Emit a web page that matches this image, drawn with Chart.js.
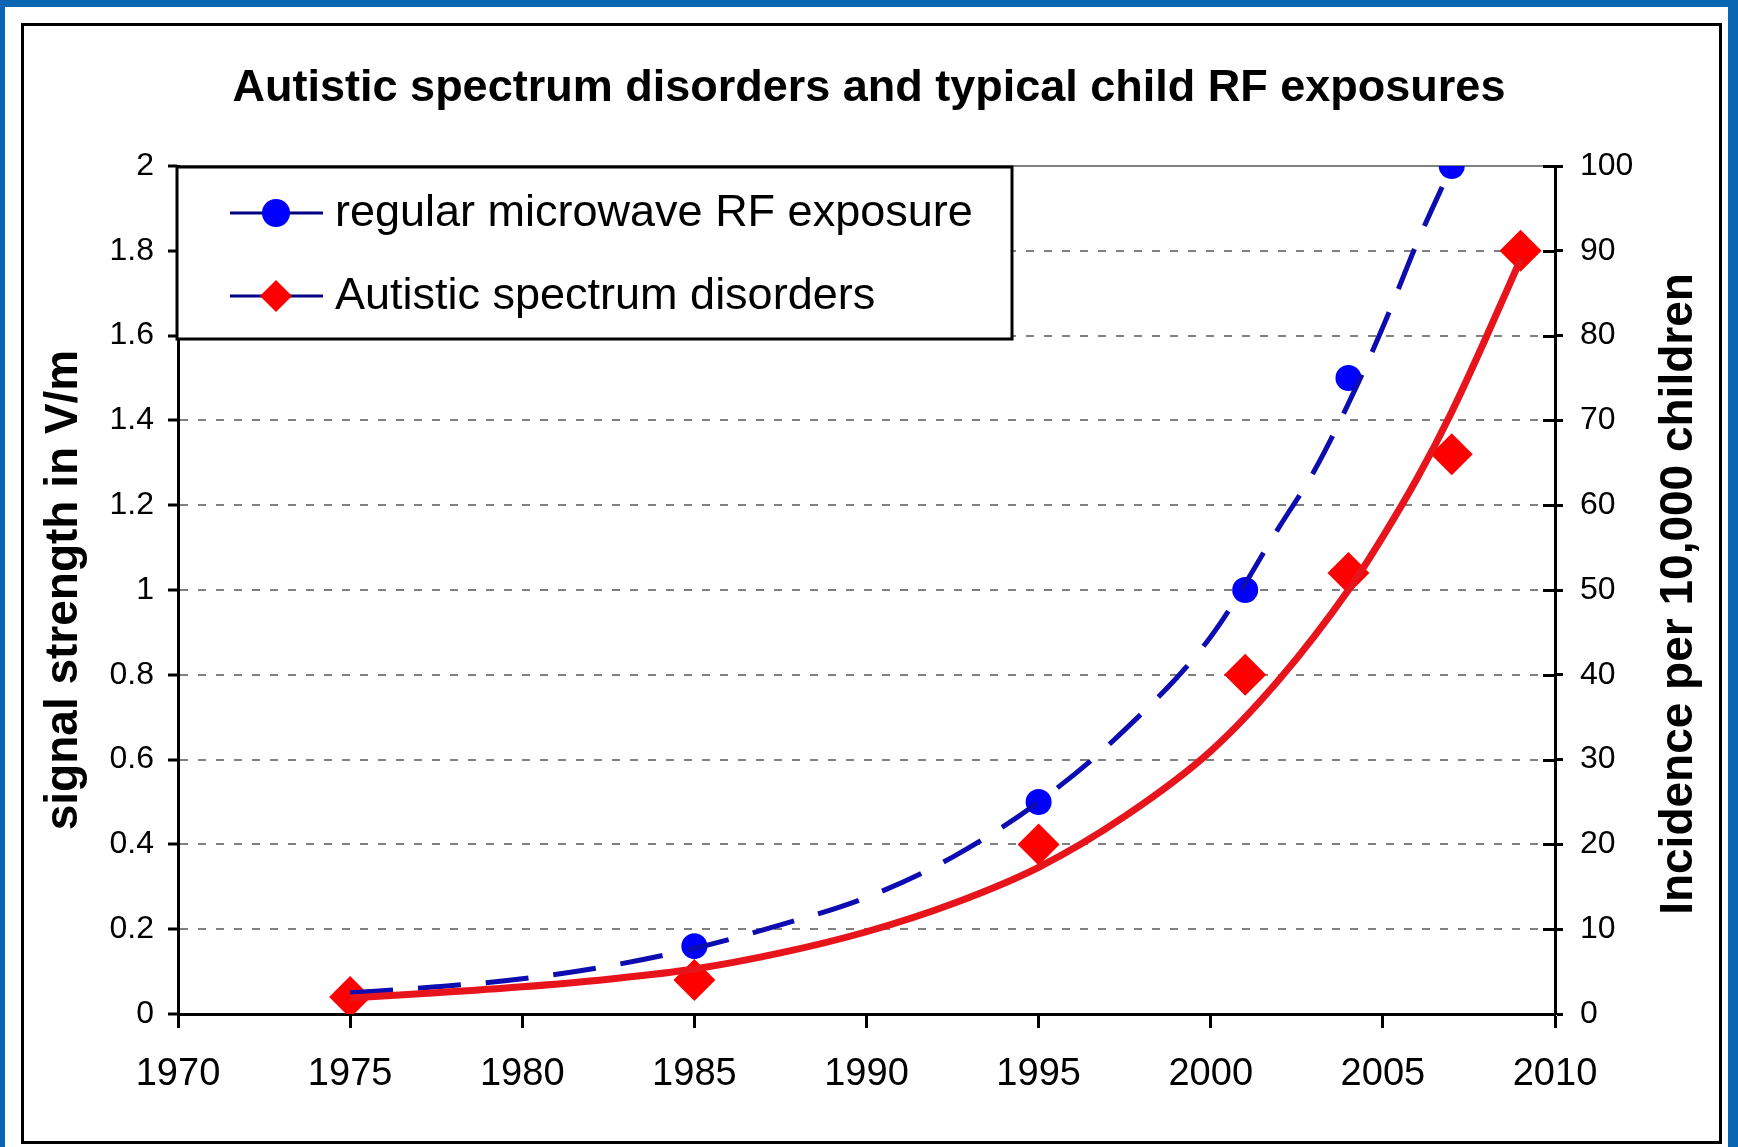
<!DOCTYPE html>
<html>
<head>
<meta charset="utf-8">
<title>Autistic spectrum disorders and typical child RF exposures</title>
<script src="https://cdn.jsdelivr.net/npm/chart.js@4.4.1/dist/chart.umd.min.js"></script>
<style>
    html, body { margin: 0; padding: 0; }
    body { width: 1738px; height: 1147px; background: #0a66b2; position: relative; overflow: hidden; }
    #panel { position: absolute; left: 5px; top: 7px; width: 1723px; height: 1140px; background: #fff; }
    #frame { position: absolute; left: 21px; top: 23px; width: 1701px; height: 1121px; border: 3px solid #000; box-sizing: border-box; }
    #rfChart { position: absolute; left: 0; top: 0; }
</style>
</head>
<body>
<div id="panel"></div>
<div id="frame"></div>
<canvas id="rfChart" width="1738" height="1147"></canvas>
<script>

// measured points
const exposureYears = [1975, 1985, 1995, 2001, 2004, 2007];
const exposureValues = [0.04, 0.16, 0.5, 1.0, 1.5, 2.0];
const autismYears = [1975, 1985, 1995, 2001, 2004, 2007, 2009];
const autismValues = [2, 4, 20, 40, 52, 66, 90];

// trend curves
const exposureTrendYears = [1975, 1977.5, 1980, 1982.5, 1985, 1987.5, 1990, 1992.5, 1995, 1997.5, 2000, 2002, 2003, 2004, 2005, 2006, 2007];
const exposureTrend = [0.05, 0.064, 0.083, 0.113, 0.155, 0.21, 0.275, 0.37, 0.5, 0.67, 0.89, 1.15, 1.28, 1.44, 1.62, 1.82, 2.0];
const autismTrendYears = [1975, 1977.5, 1980, 1982.5, 1985, 1987.5, 1990, 1992.5, 1995, 1997.5, 2000, 2002, 2004, 2005, 2006, 2007, 2008, 2009];
const autismTrend = [1.9, 2.5, 3.2, 4.1, 5.3, 7.2, 9.7, 13.0, 17.3, 23.3, 31.0, 39.5, 50, 56.3, 63.2, 71, 79.8, 89];

// tick labels
const xTicks = [1970, 1975, 1980, 1985, 1990, 1995, 2000, 2005, 2010];
const leftTicks = [0, 0.2, 0.4, 0.6, 0.8, 1, 1.2, 1.4, 1.6, 1.8, 2];
const rightTicks = [0, 10, 20, 30, 40, 50, 60, 70, 80, 90, 100];

const seriesNames = ["regular microwave RF exposure", "Autistic spectrum disorders"];
const chartTitle = "Autistic spectrum disorders and typical child RF exposures";
const leftTitle = "signal strength in V/m";
const rightTitle = "Incidence per 10,000 children";

const FONT = '"Liberation Sans", Arial, sans-serif';

function pairs(xs, ys) {
    return xs.map(function (x, i) { return { x: x, y: ys[i] }; });
}

function setTicks(values) {
    return function (scale) {
        scale.ticks = values.map(function (v) { return { value: v }; });
    };
}

function plainLabel(v) {
    return String(Math.round(v * 10) / 10);
}

// legend box and right axis title, drawn by hand
const extras = {
    id: "extras",
    afterDraw: function (chart) {
        const ctx = chart.ctx;
        const y1 = chart.scales.y1;
        ctx.save();

        // right axis ticks also reach into the plot
        ctx.strokeStyle = "#000";
        ctx.lineWidth = 3;
        y1.ticks.forEach(function (t) {
            const py = Math.round(y1.getPixelForValue(t.value)) + 0.5;
            ctx.beginPath();
            ctx.moveTo(y1.left - 12, py);
            ctx.lineTo(y1.left, py);
            ctx.stroke();
        });

        // legend
        const box = { l: 177, t: 167, r: 1012, b: 339 };
        ctx.fillStyle = "#fff";
        ctx.fillRect(box.l, box.t, box.r - box.l, box.b - box.t);
        ctx.lineWidth = 3;
        ctx.strokeStyle = "#000";
        ctx.strokeRect(box.l, box.t, box.r - box.l, box.b - box.t);

        const rows = [
            { y: 213, color: "#0000ff", style: "circle", r: 14 },
            { y: 296, color: "#ff0000", style: "rectRot", r: 16 }
        ];
        rows.forEach(function (row, i) {
            ctx.strokeStyle = "#000080";
            ctx.lineWidth = 3;
            ctx.beginPath();
            ctx.moveTo(230, row.y);
            ctx.lineTo(323, row.y);
            ctx.stroke();
            ctx.fillStyle = row.color;
            ctx.beginPath();
            if (row.style === "circle") {
                ctx.arc(276, row.y, row.r, 0, Math.PI * 2);
            } else {
                ctx.moveTo(276 - row.r, row.y);
                ctx.lineTo(276, row.y - row.r);
                ctx.lineTo(276 + row.r, row.y);
                ctx.lineTo(276, row.y + row.r);
                ctx.closePath();
            }
            ctx.fill();
            ctx.fillStyle = "#000";
            ctx.font = "45px " + FONT;
            ctx.textBaseline = "middle";
            ctx.textAlign = "left";
            ctx.fillText(seriesNames[i], 335, row.y + 1);
        });

        // right title, reading bottom to top
        ctx.translate(1679, 594);
        ctx.rotate(-Math.PI / 2);
        ctx.font = "bold 46px " + FONT;
        ctx.textAlign = "center";
        ctx.textBaseline = "middle";
        ctx.fillStyle = "#000";
        ctx.fillText(rightTitle, 0, 0);
        ctx.restore();
    }
};

const ctx = document.getElementById("rfChart").getContext("2d");
Chart.defaults.color = "#000";
Chart.defaults.font.family = FONT;

new Chart(ctx, {
    type: "line",
    data: {
        datasets: [
            {
                label: seriesNames[1] + " trend",
                data: pairs(autismTrendYears, autismTrend),
                yAxisID: "y1",
                borderColor: "#e8141c",
                borderWidth: 7,
                pointRadius: 0,
                cubicInterpolationMode: "monotone",
                fill: false
            },
            {
                label: seriesNames[0] + " trend",
                data: pairs(exposureTrendYears, exposureTrend),
                yAxisID: "y",
                borderColor: "#0c0cb0",
                borderWidth: 5,
                borderDash: [43, 25],
                pointRadius: 0,
                cubicInterpolationMode: "monotone",
                fill: false
            },
            {
                label: seriesNames[1],
                data: pairs(autismYears, autismValues),
                yAxisID: "y1",
                showLine: false,
                pointStyle: "rectRot",
                pointRadius: 21,
                pointBackgroundColor: "#ff0000",
                pointBorderWidth: 0
            },
            {
                label: seriesNames[0],
                data: pairs(exposureYears, exposureValues),
                yAxisID: "y",
                showLine: false,
                pointStyle: "circle",
                pointRadius: 13,
                pointBackgroundColor: "#0000ff",
                pointBorderWidth: 0
            }
        ]
    },
    options: {
        responsive: false,
        animation: false,
        events: [],
        layout: { padding: 0 },
        plugins: {
            legend: { display: false },
            tooltip: { enabled: false },
            title: {
                display: true,
                text: chartTitle,
                font: { size: 45, weight: "bold" },
                color: "#000",
                padding: { top: 62, bottom: 50 }
            }
        },
        scales: {
            x: {
                type: "linear",
                min: 1970,
                max: 2010,
                afterBuildTicks: setTicks(xTicks),
                afterFit: function (s) { s.height = 133; },
                ticks: {
                    font: { size: 38 },
                    padding: 24,
                    maxRotation: 0,
                    callback: function (v) { return String(v); }
                },
                grid: { drawOnChartArea: false, tickLength: 14, tickColor: "#000", tickWidth: 3 },
                border: { color: "#000", width: 3 }
            },
            y: {
                position: "left",
                min: 0,
                max: 2,
                afterBuildTicks: setTicks(leftTicks),
                afterFit: function (s) { s.width = 178; },
                ticks: { font: { size: 32 }, padding: 14, callback: plainLabel },
                title: {
                    display: true,
                    text: leftTitle,
                    font: { size: 46, weight: "bold" },
                    padding: { top: 37, bottom: 0 }
                },
                grid: {
                    color: "#808080",
                    lineWidth: 2,
                    tickLength: 10,
                    tickColor: "#000",
                    tickWidth: 3
                },
                border: {
                    color: "#000",
                    width: 3,
                    dash: function (c) { return c.tick && c.tick.value === 2 ? [] : [8, 10]; }
                }
            },
            y1: {
                position: "right",
                min: 0,
                max: 100,
                afterBuildTicks: setTicks(rightTicks),
                afterFit: function (s) { s.width = 183; },
                ticks: { font: { size: 32 }, padding: 17, callback: plainLabel },
                grid: { drawOnChartArea: false, tickLength: 8, tickColor: "#000", tickWidth: 3 },
                border: { color: "#000", width: 3 }
            }
        }
    },
    plugins: [extras]
});
</script>
</body>
</html>
